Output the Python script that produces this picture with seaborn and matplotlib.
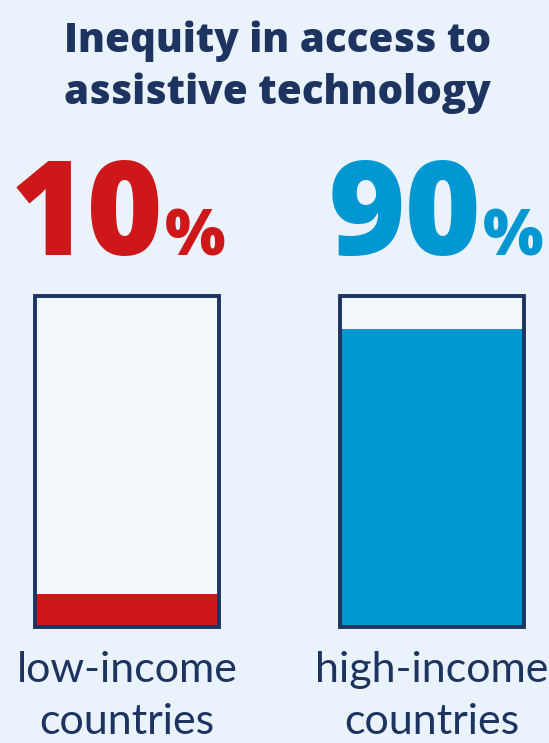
import matplotlib
matplotlib.use("Agg")
import matplotlib.pyplot as plt
import seaborn as sns
import pandas as pd

# data
groups = ["low-income\ncountries", "high-income\ncountries"]
access_pct = [10, 90]
full_scale = [100, 100]
bar_colors = ["#CE1719", "#0097D3"]
title = "Inequity in access to\nassistive technology"

BG = "#EAF3FB"
BOX = "#F2F7FC"
NAVY = "#1D3461"
W, H = 549, 743

df = pd.DataFrame({"group": groups, "pct": access_pct, "full": full_scale})

sns.set_theme(style="white")
plt.rcParams["font.family"] = ["Lato", "DejaVu Sans"]

fig = plt.figure(figsize=(W / 100, H / 100), dpi=100, facecolor=BG)

# axes placed so the bars land where the reference has them
ax = fig.add_axes([0, 116 / H, 1, 331 / H])
ax.set_facecolor("none")

# light backing boxes
sns.barplot(data=df, x="group", y="full", color=BOX, width=0.603,
            saturation=1, ax=ax, linewidth=0)
# filled share
sns.barplot(data=df, x="group", y="pct", hue="group", palette=bar_colors,
            width=0.603, saturation=1, ax=ax, linewidth=0, legend=False)
# outlines on top
sns.barplot(data=df, x="group", y="full", fill=False, width=0.603,
            ax=ax, linewidth=2.8, edgecolor=NAVY)
for p in ax.patches:
    p.set_clip_on(False)

ax.set_xlim(-127 / 305, (W - 127) / 305)
ax.set_ylim(0, 100)
ax.axis("off")

# title
t1, t2 = title.split("\n")
fig.text(0.505, 1 - 52 / H, t1, ha="center", va="baseline", color=NAVY,
         fontsize=29, fontweight="heavy", family="Open Sans")
fig.text(0.505, 1 - 104 / H, t2, ha="center", va="baseline", color=NAVY,
         fontsize=29, fontweight="heavy", family="Open Sans")

# big percentages and group labels
num_right_px = [164, 482]
centers_px = [127, 432]
for nx, cx, val, col, lab in zip(num_right_px, centers_px, access_pct,
                                 bar_colors, groups):
    fig.text(nx / W, 1 - 255 / H, f"{val}", ha="right", va="baseline",
             color=col, fontsize=94, fontweight="heavy", family="Open Sans")
    fig.text((nx + 1) / W, 1 - 255 / H, "%", ha="left", va="baseline",
             color=col, fontsize=46, fontweight="heavy", family="Open Sans")
    l1, l2 = lab.split("\n")
    fig.text(cx / W, 1 - 682 / H, l1, ha="center", va="baseline",
             color=NAVY, fontsize=31)
    fig.text(cx / W, 1 - 734 / H, l2, ha="center", va="baseline",
             color=NAVY, fontsize=31)

fig.savefig("out.png", dpi=100, facecolor=BG)
